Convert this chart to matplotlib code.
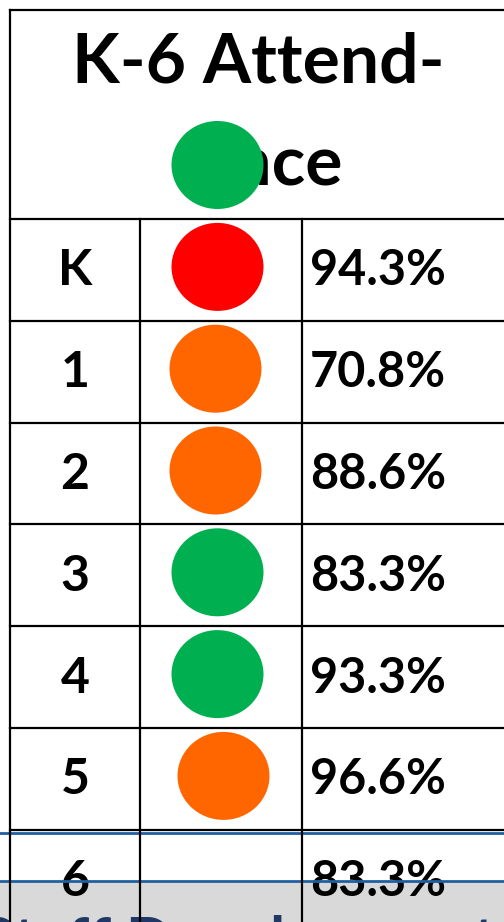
import matplotlib
matplotlib.use("Agg")
import matplotlib.pyplot as plt
from matplotlib.patches import Ellipse, Rectangle

# ---- data ----
title_line1 = "K-6 Attend-"
title_line2 = "ance"
header_status = "green"
grades = ["K", "1", "2", "3", "4", "5", "6"]
statuses = ["red", "orange", "orange", "green", "green", "orange", None]
attendance = ["94.3%", "70.8%", "88.6%", "83.3%", "93.3%", "96.6%", "83.3%"]
footer_text = "Staff Development in R"

status_colors = {"red": "#ff0000", "orange": "#ff6600", "green": "#00b050"}

# ---- layout (pixel coordinates) ----
W, H = 504, 922
fig = plt.figure(figsize=(W / 100, H / 100), dpi=100)
ax = fig.add_axes([0, 0, 1, 1])
ax.set_xlim(0, W)
ax.set_ylim(H, 0)
ax.axis("off")

font = "Lato"
left, c1, c2 = 10, 140, 302
top, header_bottom = 10, 219
row_h = 101.8
lw = 1.6

# gray footer band
ax.add_patch(Rectangle((0, 881), W, H - 881, facecolor="#d9d9d9", edgecolor="none", zorder=0))
ax.plot([0, W], [833, 833], color="#1f5fa0", lw=2.0, zorder=3)
ax.plot([0, W], [881, 881], color="#1f5fa0", lw=2.0, zorder=3)

# title
ax.text(258, 63, title_line1, ha="center", va="center", fontsize=50,
        fontweight="bold", family=font, color="black", zorder=2)
ax.text(270, 166, title_line2, ha="center", va="center", fontsize=50,
        fontweight="bold", family=font, color="black", zorder=2)
ax.add_patch(Ellipse((217.5, 165), 92, 88, facecolor=status_colors[header_status],
                     edgecolor="none", zorder=4))

# grid lines
ax.plot([left, W], [top, top], color="black", lw=lw, zorder=5)
ax.plot([left, left], [top, H], color="black", lw=lw, zorder=5)
for x in (c1, c2):
    ax.plot([x, x], [header_bottom, H], color="black", lw=lw, zorder=5)
n = len(grades)
for i in range(n):
    y = header_bottom + i * row_h
    ax.plot([left, W], [y, y], color="black", lw=lw, zorder=5)

circle_dx = [0, -2, -2, 0, 0, 6, 0]
for i, (g, s, v) in enumerate(zip(grades, statuses, attendance)):
    yc = header_bottom + (i + 0.5) * row_h
    ax.text(75, yc + 1, g, ha="center", va="center", fontsize=36,
            fontweight="bold", family=font, color="black", zorder=2)
    ax.text(310, yc + 1, v, ha="left", va="center", fontsize=35,
            fontweight="bold", family=font, color="black", zorder=2)
    if s is not None:
        ax.add_patch(Ellipse((217.5 + circle_dx[i], yc - 3), 92, 88,
                             facecolor=status_colors[s], edgecolor="none", zorder=4))

# footer text (cut off at the bottom, as in the reference)
ax.text(-20, 915, footer_text, ha="left", va="top", fontsize=44,
        fontweight="bold", family=font, color="#1f3864", zorder=1)

fig.savefig("out.png", dpi=100)
